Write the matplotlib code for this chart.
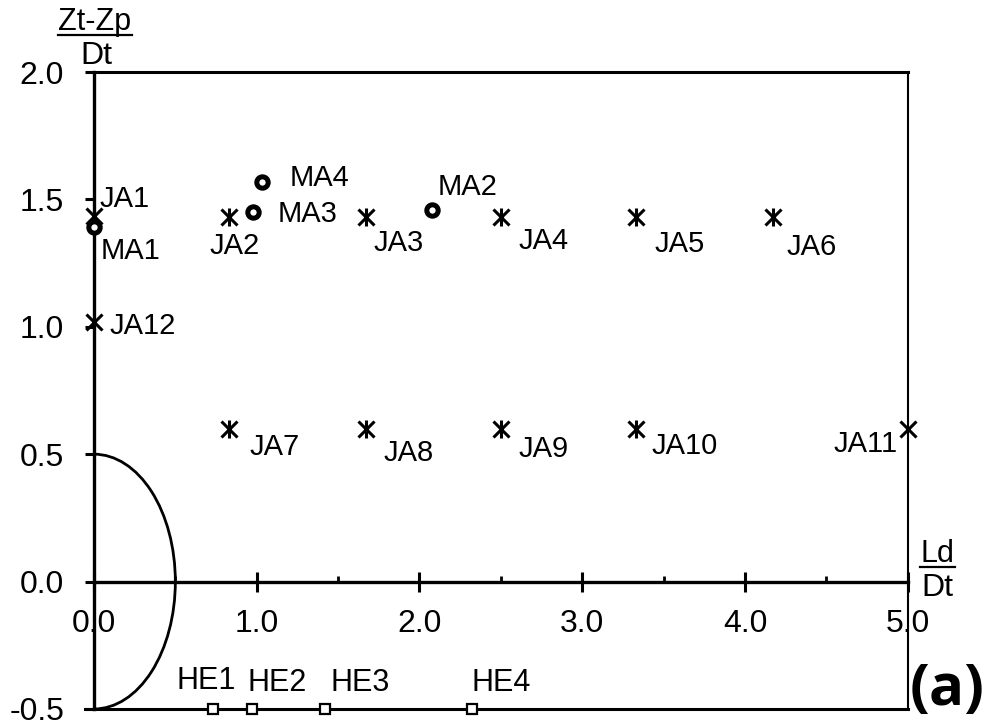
import numpy as np
import matplotlib
matplotlib.use("Agg")
import matplotlib.pyplot as plt
from matplotlib.patches import Arc
from matplotlib.lines import Line2D

plt.rcParams['font.family'] = ['Liberation Sans', 'DejaVu Sans']

# ---- data ----
ja_names = ['JA1', 'JA2', 'JA3', 'JA4', 'JA5', 'JA6',
            'JA7', 'JA8', 'JA9', 'JA10', 'JA11', 'JA12']
ja_x = [0.0, 0.83, 1.67, 2.50, 3.33, 4.17, 0.83, 1.67, 2.50, 3.33, 5.0, 0.0]
ja_y = [1.435, 1.43, 1.43, 1.43, 1.43, 1.43, 0.60, 0.60, 0.60, 0.60, 0.60, 1.02]
ja_cross_only = ['JA1', 'JA11', 'JA12']   # plain x markers on the frame

ma_names = ['MA1', 'MA2', 'MA3', 'MA4']
ma_x = [0.0, 2.08, 0.98, 1.03]
ma_y = [1.39, 1.46, 1.45, 1.57]

he_names = ['HE1', 'HE2', 'HE3', 'HE4']
he_x = [0.73, 0.97, 1.42, 2.32]
he_y = [-0.5, -0.5, -0.5, -0.5]

# label placement: (dx px, dy px, ha)
label_pos = {
    'JA1': (6, 17, 'left'), 'JA2': (6, -29, 'center'), 'JA3': (8, -26, 'left'),
    'JA4': (18, -24, 'left'), 'JA5': (19, -27, 'left'), 'JA6': (14, -30, 'left'),
    'JA7': (20, -18, 'left'), 'JA8': (18, -24, 'left'), 'JA9': (18, -20, 'left'),
    'JA10': (16, -17, 'left'), 'JA11': (-10, -15, 'right'), 'JA12': (16, -4, 'left'),
    'MA1': (7, -24, 'left'), 'MA2': (5, 23, 'left'), 'MA3': (24, -2, 'left'),
    'MA4': (28, 4, 'left'),
    'HE1': (-36, 28, 'left'), 'HE2': (-4, 26, 'left'), 'HE3': (5, 26, 'left'),
    'HE4': (0, 26, 'left'),
}

fig = plt.figure(figsize=(9.84, 7.23), dpi=100)
ax = fig.add_axes([0.0955, 0.0194, 0.827, 0.881])
ax.set_xlim(0, 5)
ax.set_ylim(-0.5, 2.0)

# frame
ax.spines['bottom'].set_position(('data', 0))
ax.spines['bottom'].set_linewidth(2.4)
ax.spines['left'].set_linewidth(2.4)
ax.spines['top'].set_linewidth(2.2)
ax.spines['right'].set_linewidth(1.5)
ax.axhline(-0.5, color='k', lw=2.2, clip_on=False, zorder=2)
ax.plot([-0.055, 0], [-0.5, -0.5], color='k', lw=2.2, clip_on=False)

ax.set_xticks(np.arange(0, 6, 1.0))
ax.set_xticklabels([f'{v:.1f}' for v in np.arange(0, 6, 1.0)])
ax.set_xticks(np.arange(0.5, 5, 1.0), minor=True)
ax.tick_params(axis='x', which='major', direction='inout', length=14, width=2.2,
               labelsize=23, pad=13)
ax.tick_params(axis='x', which='minor', direction='in', length=4, width=2.0)
ax.set_yticks(np.arange(-0.5, 2.01, 0.5))
ax.set_yticklabels([f'{v:.1f}' for v in np.arange(-0.5, 2.01, 0.5)])
ax.tick_params(axis='y', direction='out', length=6.5, width=2.2, labelsize=23, pad=15)

# semicircle
ax.add_patch(Arc((0, 0), 1.0, 1.0, theta1=-90, theta2=90, color='k', lw=2.0))

# markers
for name, x, y in zip(ja_names, ja_x, ja_y):
    ax.plot(x, y, marker='x', ms=12, mew=2.2, color='k', clip_on=False, zorder=5)
    if name not in ja_cross_only:
        ax.plot(x, y, marker='|', ms=13, mew=2.2, color='k', clip_on=False, zorder=5)
ax.plot(ma_x, ma_y, ls='none', marker='o', ms=8.2, mew=3.6, mfc='white',
        mec='k', clip_on=False, zorder=6)
ax.plot(he_x, he_y, ls='none', marker='s', ms=7.5, mew=1.6, mfc='white',
        mec='k', clip_on=False, zorder=6)

# labels
for names, xs, ys in [(ja_names, ja_x, ja_y), (ma_names, ma_x, ma_y)]:
    for name, x, y in zip(names, xs, ys):
        dx, dy, ha = label_pos[name]
        ax.annotate(name, (x, y), xytext=(dx, dy), textcoords='offset pixels',
                    ha=ha, va='center', fontsize=21, annotation_clip=False, zorder=7)
for name, x, y in zip(he_names, he_x, he_y):
    dx, dy, ha = label_pos[name]
    ax.annotate(name, (x, y), xytext=(dx, dy), textcoords='offset pixels',
                ha=ha, va='center', fontsize=22, annotation_clip=False, zorder=7,
                family=['Liberation Sans Narrow', 'Liberation Sans'])

# axis captions (fraction style)
fig.text(95 / 984, 1 - 22 / 723, 'Zt-Zp', ha='center', va='center', fontsize=22)
fig.add_artist(Line2D([58 / 984, 132 / 984], [1 - 35 / 723, 1 - 35 / 723],
                      color='k', lw=1.6))
fig.text(96 / 984, 1 - 56 / 723, 'Dt', ha='center', va='center', fontsize=23)

fig.text(937 / 984, 1 - 554 / 723, 'Ld', ha='center', va='center', fontsize=22)
fig.add_artist(Line2D([920 / 984, 955 / 984], [1 - 567 / 723, 1 - 567 / 723],
                      color='k', lw=1.6))
fig.text(937 / 984, 1 - 588 / 723, 'Dt', ha='center', va='center', fontsize=23)

fig.text(947 / 984, 1 - 690 / 723, '(a)', ha='center', va='center', fontsize=42,
         fontweight='bold', family=['Open Sans', 'DejaVu Sans'])

fig.savefig('out.png', dpi=100)
